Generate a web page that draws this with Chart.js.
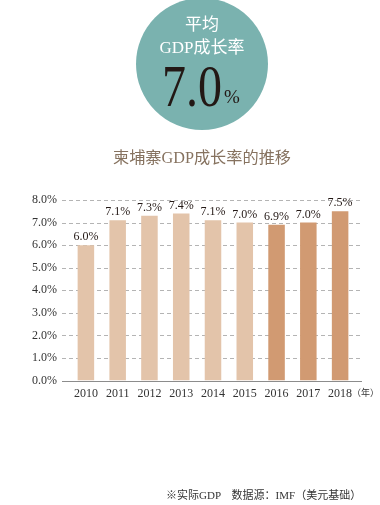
<!DOCTYPE html>
<html>
<head>
<meta charset="utf-8">
<script src="https://cdn.jsdelivr.net/npm/chart.js@4.4.1/dist/chart.umd.min.js"></script>
<style>
  html, body { margin:0; padding:0; background:#fff; }
  body { width:380px; height:505px; position:relative; overflow:hidden; }
  #c { position:absolute; left:0; top:0; }
  .circle { position:absolute; left:136px; top:-2px; width:132px; height:132px; border-radius:50%; background:#7ab2af; }
  .t { position:absolute; white-space:nowrap; font-family:"Liberation Serif","Noto Sans CJK SC",serif; }
</style>
</head>
<body>
<canvas id="c" width="380" height="505"></canvas>
<div class="circle"></div>
<div class="t" style="left:152px;width:100px;text-align:center;top:15px;font-size:17px;line-height:20px;color:#fff;">平均</div>
<div class="t" style="left:141px;width:122px;text-align:center;top:38px;font-size:17px;line-height:20px;color:#fff;">GDP成长率</div>
<div class="t" style="left:162px;top:56px;font-size:60px;line-height:60px;color:#231815;transform:scaleX(0.8);transform-origin:left top;">7.0</div>
<div class="t" style="left:224px;top:87px;font-size:19px;line-height:20px;color:#231815;">%</div>
<div class="t" style="left:62px;width:280px;text-align:center;top:148px;font-size:16.2px;line-height:20px;color:#86725f;">柬埔寨GDP成长率的推移</div>
<div class="t" style="left:166px;top:488px;font-size:11px;line-height:14px;color:#333;">※实际GDP　数据源：IMF（美元基础）</div>
<script>
const years = ['2010','2011','2012','2013','2014','2015','2016','2017','2018'];
const growth = [6.0, 7.1, 7.3, 7.4, 7.1, 7.0, 6.9, 7.0, 7.5];
const yTicks = [0, 1, 2, 3, 4, 5, 6, 7, 8];
const unitLabel = '（年）';
const lightColor = '#e3c4aa';
const darkColor = '#d19a72';
const barColors = years.map(y => (parseInt(y) >= 2016 ? darkColor : lightColor));

const serif = '"Liberation Serif", "DejaVu Serif", serif';

const extras = {
  id: 'extras',
  beforeDatasetsDraw(chart) {
    const {ctx, chartArea, scales} = chart;
    const y = scales.y;
    ctx.save();
    yTicks.forEach(v => {
      const py = Math.round(y.getPixelForValue(v)) + 0.5;
      ctx.beginPath();
      if (v === 0) {
        ctx.setLineDash([]);
        ctx.strokeStyle = '#8c8c8c';
      } else {
        ctx.setLineDash([4, 3]);
        ctx.strokeStyle = '#b4b4b4';
      }
      ctx.lineWidth = 1;
      ctx.moveTo(chartArea.left - 8, py);
      ctx.lineTo(chartArea.right + 6, py);
      ctx.stroke();
    });
    ctx.restore();
  },
  afterDatasetsDraw(chart) {
    const {ctx, scales} = chart;
    const meta = chart.getDatasetMeta(0);
    ctx.save();
    ctx.fillStyle = '#231815';
    ctx.font = '12px ' + serif;
    ctx.textAlign = 'center';
    ctx.textBaseline = 'bottom';
    meta.data.forEach((bar, i) => {
      ctx.fillText(growth[i].toFixed(1) + '%', bar.x, bar.y - 2);
    });
    const lastX = scales.x.getPixelForValue(years.length - 1);
    ctx.font = '9px "Noto Sans CJK SC", sans-serif';
    ctx.textAlign = 'left';
    ctx.textBaseline = 'middle';
    ctx.fillStyle = '#333';
    ctx.fillText(unitLabel, lastX + 12, scales.x.top + 12);
    ctx.restore();
  }
};

new Chart(document.getElementById('c'), {
  type: 'bar',
  data: {
    labels: years,
    datasets: [{
      data: growth,
      backgroundColor: barColors,
      borderWidth: 0,
      categoryPercentage: 1,
      barPercentage: 0.52
    }]
  },
  options: {
    responsive: false,
    animation: false,
    events: [],
    layout: { padding: { left: 0, right: 24, top: 200, bottom: 100.5 } },
    plugins: { legend: { display: false }, tooltip: { enabled: false }, title: { display: false } },
    scales: {
      x: {
        offset: true,
        grid: { display: false, drawTicks: false },
        border: { display: false },
        ticks: { color: '#333', font: { family: serif, size: 12 }, padding: 6, maxRotation: 0 },
        afterFit(s) { s.height = 24; }
      },
      y: {
        min: 0, max: 8,
        grid: { display: false, drawTicks: false },
        border: { display: false },
        ticks: {
          stepSize: 1,
          color: '#333',
          font: { family: serif, size: 12 },
          padding: 13,
          callback: v => Number(v).toFixed(1) + '%'
        },
        afterFit(s) { s.width = 70; }
      }
    }
  },
  plugins: [extras]
});
</script>
</body>
</html>
